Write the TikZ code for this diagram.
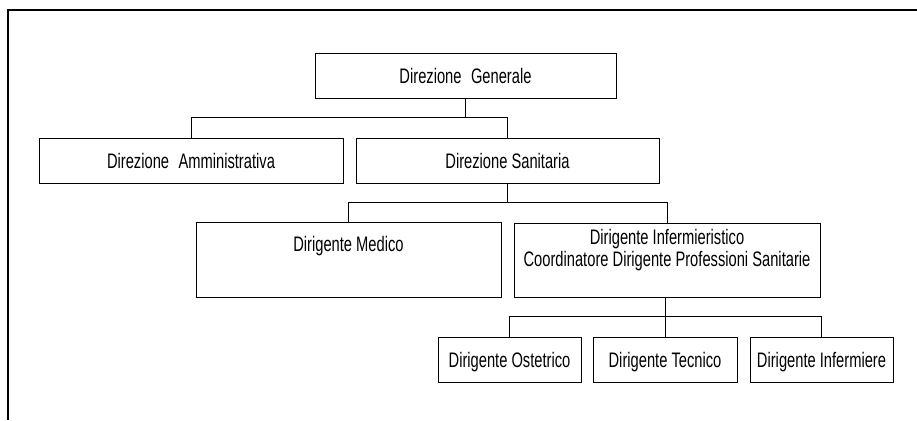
\documentclass[tikz,border=0pt]{standalone}
\usepackage{fontspec}
\setmainfont{Liberation Sans}[FakeStretch=0.70]
\begin{document}
\begin{tikzpicture}[x=1pt,y=-1pt]
\tikzset{
  orgbox/.style={draw, line width=0.7pt, inner sep=0pt, minimum height=45pt,
    text height=15pt, text depth=0pt, font=\fontsize{21}{22}\selectfont},
  link/.style={line width=0.7pt},
  frameline/.style={line width=1.2pt},
}
\useasboundingbox (0,0) rectangle (917,420);
% outer frame (open on right and bottom)
\coordinate (fbl) at (8,420);
\coordinate (ftl) at (8,10);
\coordinate (ftr) at (917,10);
\draw[frameline] (fbl) -- (ftl) -- (ftr);

% boxes
\node[orgbox, minimum width=301pt] (dg) at (465.5,75.5) {Direzione\hspace{0.45em}Generale};
\node[orgbox, minimum width=304pt] (da) at (191,160.5) {Direzione\hspace{0.45em}Amministrativa};
\node[orgbox, minimum width=303pt] (ds) at (507.5,160.5) {Direzione Sanitaria};
\node[orgbox, minimum width=305pt, minimum height=75pt, text height=29pt, text depth=46pt] (dm) at (348.5,259.5) {Dirigente Medico};
\node[orgbox, minimum width=306pt, minimum height=74pt, text height=21pt, text depth=53pt] (di) at (667,260)
  {\begin{tabular}[t]{@{}c@{}}Dirigente Infermieristico\\Coordinatore Dirigente Professioni Sanitarie\end{tabular}};
\node[orgbox, minimum width=143pt] (do) at (509.5,359.5) {Dirigente Ostetrico};
\node[orgbox, minimum width=144pt] (dt) at (665,359.5) {Dirigente Tecnico};
\node[orgbox, minimum width=143pt] (dn) at (821.5,359.5) {Dirigente Infermiere};

% bus coordinates
\coordinate (bus1) at (0,117);
\coordinate (bus2) at (0,202);
\coordinate (bus3) at (0,316);

% connectors
\draw[link] (dg.south) -- (dg.south |- bus1) -| (da.north);
\draw[link] (dg.south |- bus1) -| (ds.north);
\draw[link] (ds.south) -- (ds.south |- bus2) -| (dm.north);
\draw[link] (ds.south |- bus2) -| (di.north);
\draw[link] (dt.north |- di.south) -- (dt.north |- bus3) -| (do.north);
\draw[link] (dt.north |- bus3) -| (dn.north);
\draw[link] (dt.north |- bus3) -- (dt.north);
\end{tikzpicture}
\end{document}
